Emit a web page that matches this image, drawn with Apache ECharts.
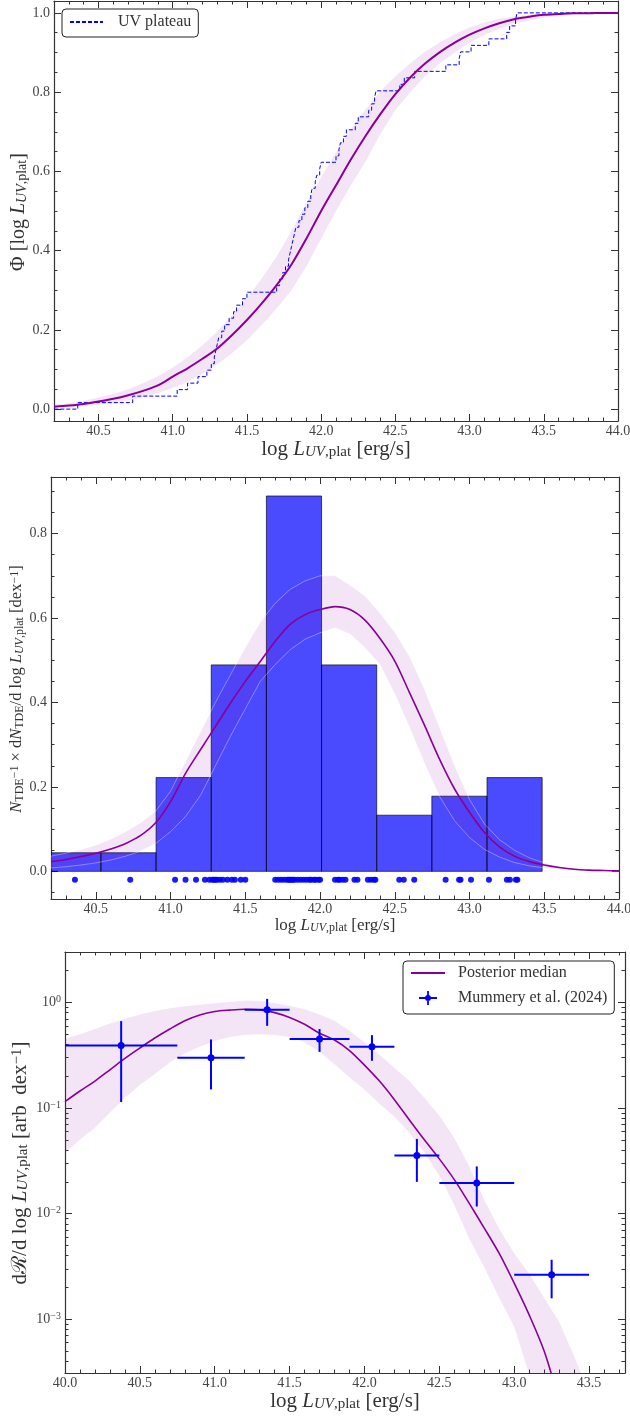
<!DOCTYPE html>
<html>
<head>
<meta charset="utf-8">
<script src="https://cdn.jsdelivr.net/npm/echarts@6/dist/echarts.min.js"></script>
<style>
  html, body { margin: 0; padding: 0; background: #fff; }
  #chart { width: 630px; height: 1420px; }
</style>
</head>
<body>
<div id="chart"></div>
<script>
// ---------- panel 1: cumulative distribution ----------
const cdfX = [40.2, 40.3, 40.4, 40.5, 40.6, 40.7, 40.8, 40.9, 41.0, 41.1, 41.2, 41.3, 41.4, 41.5, 41.6, 41.7, 41.8, 41.9, 42.0,
  42.1, 42.2, 42.3, 42.4, 42.5, 42.6, 42.7, 42.8, 42.9, 43.0, 43.1, 43.2, 43.3, 43.4, 43.5, 43.6, 43.7, 43.8, 43.9, 44.0];
const cdfMedian = [0.006, 0.009, 0.013, 0.019, 0.026, 0.035, 0.046, 0.060, 0.082, 0.103, 0.127, 0.153, 0.187, 0.225, 0.267, 0.313, 0.365, 0.430, 0.500,
  0.565, 0.630, 0.690, 0.745, 0.795, 0.837, 0.872, 0.901, 0.925, 0.945, 0.961, 0.974, 0.984, 0.990, 0.995, 0.997, 0.999, 0.999, 1.000, 1.000];
const cdfLow = [0.003, 0.005, 0.008, 0.011, 0.016, 0.022, 0.030, 0.040, 0.053, 0.069, 0.089, 0.113, 0.141, 0.174, 0.212, 0.254, 0.300, 0.360, 0.430,
  0.500, 0.565, 0.625, 0.695, 0.755, 0.800, 0.840, 0.873, 0.900, 0.925, 0.945, 0.960, 0.972, 0.981, 0.988, 0.993, 0.996, 0.998, 0.999, 1.000];
const cdfHigh = [0.011, 0.015, 0.021, 0.029, 0.038, 0.050, 0.065, 0.083, 0.105, 0.131, 0.161, 0.196, 0.236, 0.280, 0.330, 0.385, 0.450, 0.520, 0.585,
  0.648, 0.706, 0.757, 0.802, 0.840, 0.873, 0.902, 0.926, 0.946, 0.963, 0.976, 0.985, 0.991, 0.995, 0.998, 0.999, 1.000, 1.000, 1.000, 1.000];

// observed log L_UV,plat of the sample (sorted)
const sampleLogL = [40.36, 40.73,
  41.03, 41.10, 41.17, 41.23, 41.26,
  41.28, 41.29, 41.30, 41.31, 41.33, 41.35, 41.38, 41.41, 41.43, 41.47, 41.50,
  41.70, 41.72, 41.74, 41.76, 41.78, 41.79, 41.80, 41.81, 41.82, 41.83, 41.85, 41.87, 41.89, 41.91, 41.93, 41.94, 41.96, 41.97, 41.99, 42.00,
  42.10, 42.12, 42.13, 42.15, 42.17, 42.23, 42.25, 42.32, 42.34, 42.36, 42.37,
  42.53, 42.56, 42.63,
  42.84, 42.93, 42.94, 43.01,
  43.13, 43.25, 43.27, 43.31, 43.32];

// ---------- panel 2: histogram + density ----------
const histEdges = [40.165, 40.534, 40.903, 41.272, 41.641, 42.010, 42.379, 42.748, 43.117, 43.486];
const histHeights = [0.044, 0.044, 0.222, 0.489, 0.889, 0.489, 0.133, 0.178, 0.222];
const pdfX = cdfX;
const pdfMedian = [0.023, 0.028, 0.035, 0.043, 0.053, 0.066, 0.085, 0.115, 0.165, 0.232, 0.288, 0.343, 0.398, 0.450, 0.497, 0.545, 0.585, 0.608, 0.620,
  0.627, 0.620, 0.595, 0.552, 0.498, 0.422, 0.345, 0.265, 0.195, 0.140, 0.092, 0.058, 0.036, 0.023, 0.015, 0.009, 0.005, 0.003, 0.002, 0.001];
const pdfLow = [0.008, 0.011, 0.015, 0.020, 0.027, 0.036, 0.048, 0.066, 0.094, 0.130, 0.180, 0.250, 0.320, 0.385, 0.450, 0.490, 0.525, 0.550, 0.565,
  0.577, 0.562, 0.530, 0.490, 0.420, 0.340, 0.255, 0.177, 0.120, 0.080, 0.052, 0.034, 0.021, 0.013, 0.008, 0.005, 0.003, 0.002, 0.001, 0.0005];
const pdfHigh = [0.036, 0.043, 0.051, 0.062, 0.076, 0.094, 0.115, 0.142, 0.190, 0.260, 0.330, 0.400, 0.465, 0.530, 0.590, 0.635, 0.668, 0.688, 0.700,
  0.700, 0.678, 0.652, 0.612, 0.566, 0.508, 0.430, 0.340, 0.250, 0.170, 0.112, 0.075, 0.050, 0.032, 0.020, 0.012, 0.007, 0.004, 0.002, 0.001];
const rugY = -0.02;

// ---------- panel 3: rate per dex (log y) ----------
const rateX = [40.0, 40.1, 40.2, 40.3, 40.4, 40.5, 40.6, 40.7, 40.8, 40.9, 41.0, 41.1, 41.2, 41.3, 41.4, 41.5, 41.6,
  41.7, 41.8, 41.9, 42.0, 42.1, 42.2, 42.3, 42.4, 42.5, 42.6, 42.7, 42.8, 42.9, 43.0, 43.1, 43.2, 43.3];
const rateMedian = [0.115, 0.145, 0.18, 0.23, 0.295, 0.37, 0.46, 0.56, 0.67, 0.76, 0.82, 0.845, 0.86, 0.85, 0.80, 0.72, 0.62,
  0.51, 0.44, 0.35, 0.255, 0.18, 0.12, 0.077, 0.05, 0.033, 0.021, 0.0125, 0.0073, 0.0042, 0.0022, 0.0011, 0.0005, 0.00017];
const rateBandX = [40.0, 40.1, 40.2, 40.3, 40.4, 40.5, 40.6, 40.7, 40.8, 40.9, 41.0, 41.1, 41.2, 41.3, 41.4, 41.5, 41.6, 41.7,
  41.8, 41.9, 42.0, 42.1, 42.2, 42.3, 42.4, 42.5, 42.6, 42.7, 42.8, 42.9, 43.0, 43.1, 43.2, 43.3, 43.4, 43.5];
const rateHigh = [0.45, 0.50, 0.56, 0.63, 0.70, 0.77, 0.83, 0.88, 0.92, 0.95, 0.98, 1.01, 1.04, 1.03, 0.98, 0.93, 0.86, 0.77,
  0.67, 0.54, 0.42, 0.32, 0.24, 0.18, 0.125, 0.085, 0.052, 0.028, 0.0135, 0.0072, 0.0042, 0.0027, 0.0016, 0.00095, 0.00045, 0.0002];
const rateLow = [0.038, 0.05, 0.065, 0.09, 0.125, 0.165, 0.21, 0.27, 0.33, 0.38, 0.43, 0.47, 0.49, 0.50, 0.49, 0.47, 0.42, 0.34,
  0.26, 0.195, 0.15, 0.11, 0.083, 0.058, 0.038, 0.023, 0.012, 0.0058, 0.0031, 0.0016, 0.00085, 0.0003, 0.0001, 0.00004, 0.00002, 0.00001];

// Mummery et al. (2024) binned points
const muX = [40.375, 40.975, 41.35, 41.70, 42.05, 42.35, 42.75, 43.25];
const muXLo = [40.0, 40.75, 41.2, 41.5, 41.9, 42.2, 42.5, 43.0];
const muXHi = [40.75, 41.2, 41.5, 41.9, 42.2, 42.5, 43.0, 43.5];
const muY = [0.39, 0.30, 0.85, 0.45, 0.38, 0.0356, 0.0195, 0.00264];
const muYLo = [0.114, 0.15, 0.60, 0.34, 0.28, 0.020, 0.0117, 0.00158];
const muYHi = [0.665, 0.446, 1.08, 0.56, 0.49, 0.051, 0.028, 0.00366];

// tick labels
const xMajorTop = [40.5, 41.0, 41.5, 42.0, 42.5, 43.0, 43.5, 44.0];
const yMajorTop = [0.0, 0.2, 0.4, 0.6, 0.8, 1.0];
const yMajorMid = [0.0, 0.2, 0.4, 0.6, 0.8];
const xMajorBot = [40.0, 40.5, 41.0, 41.5, 42.0, 42.5, 43.0, 43.5];
const yMajorBot = [0.001, 0.01, 0.1, 1];

const FONT = 'Liberation Serif';
const TXT = '#333';
const AXIS = '#333';
const PURPLE = '#880099';
const BLUE = '#0000ff';
const BAND = 'rgba(136,0,153,0.10)';

function steps(a, b, d) {
  const out = [];
  for (let v = a; v <= b + 1e-9; v += d) out.push(Math.round(v * 1000) / 1000);
  return out;
}
function logMinors(lo, hi) {
  const out = [];
  for (let e = -5; e <= 1; e++) {
    for (let m = 2; m <= 9; m++) {
      const v = m * Math.pow(10, e);
      if (v >= lo && v <= hi) out.push(v);
    }
  }
  return out;
}

// rich text pieces (colour key differs between axis names and graphic text)
function richFor(size, colorKey) {
  const s = Math.round(size * 0.7);
  const pad = Math.round(size * 0.3);
  const c = {};
  c[colorKey] = TXT;
  return {
    n: Object.assign({ fontFamily: FONT, fontSize: size }, c),
    i: Object.assign({ fontFamily: FONT, fontSize: size, fontStyle: 'italic' }, c),
    si: Object.assign({ fontFamily: FONT, fontSize: s, fontStyle: 'italic', verticalAlign: 'bottom', padding: [pad, 0, 0, 0] }, c),
    s: Object.assign({ fontFamily: FONT, fontSize: s, verticalAlign: 'bottom', padding: [pad, 0, 0, 0] }, c),
    sup: Object.assign({ fontFamily: FONT, fontSize: s, verticalAlign: 'top', padding: [0, 0, pad, 0] }, c)
  };
}

// four axes per side: main (line, big ticks, labels), minor ticks, mirrored main, mirrored minor
function sideAxes(dim, grid, base, major, minor, main) {
  const near = dim === 'x' ? 'bottom' : 'left';
  const far = dim === 'x' ? 'top' : 'right';
  const mk = (position, ticks, len, line) => Object.assign({
    gridIndex: grid,
    position: position,
    axisLine: { show: line, onZero: false, lineStyle: { color: AXIS, width: 1.2 } },
    axisTick: { show: true, inside: true, length: len, customValues: ticks, lineStyle: { color: AXIS, width: 1 } },
    axisLabel: { show: false },
    splitLine: { show: false },
    minorTick: { show: false }
  }, base);
  const first = mk(near, major, 7, true);
  Object.assign(first, main);
  return [first, mk(near, minor, 3.5, false), mk(far, major, 7, true), mk(far, minor, 3.5, false)];
}

const fixed1 = v => v.toFixed(1);
const tickLabel = (values, fmt, extra) => Object.assign({
  show: true, customValues: values, formatter: fmt, color: '#444', fontFamily: FONT, fontSize: 14
}, extra || {});

const xName = '{n|log }{i|L}{si|UV}{s|,plat}{n| [erg/s]}';
const xNameStyle = size => ({ fontFamily: FONT, fontSize: size, color: TXT, verticalAlign: 'top', rich: richFor(size, 'color') });

const xAxes = [].concat(
  sideAxes('x', 0, { type: 'value', min: 40.2, max: 44.0 }, xMajorTop, steps(40.2, 44.0, 0.1), {
    axisLabel: tickLabel(xMajorTop, fixed1, { margin: 3 }),
    name: xName, nameLocation: 'middle', nameGap: 11, nameTextStyle: xNameStyle(21)
  }),
  sideAxes('x', 1, { type: 'value', min: 40.2, max: 44.0 }, xMajorTop, steps(40.2, 44.0, 0.1), {
    axisLabel: tickLabel(xMajorTop, fixed1, { margin: 3 }),
    name: xName, nameLocation: 'middle', nameGap: 14, nameTextStyle: xNameStyle(17)
  }),
  sideAxes('x', 2, { type: 'value', min: 40.0, max: 43.74 }, xMajorBot, steps(40.0, 43.7, 0.1), {
    axisLabel: tickLabel(xMajorBot, fixed1, { margin: 3 }),
    name: xName, nameLocation: 'middle', nameGap: 12, nameTextStyle: xNameStyle(21)
  })
);

const logLabel = v => {
  const e = Math.round(Math.log10(v));
  return '10{sup|' + (e === 0 ? '0' : '\u2212' + Math.abs(e)) + '}';
};

const yAxes = [].concat(
  sideAxes('y', 0, { type: 'value', min: -0.03, max: 1.03 }, yMajorTop, steps(0, 1.0, 0.05), {
    axisLabel: tickLabel(yMajorTop, fixed1, { margin: 4 })
  }),
  sideAxes('y', 1, { type: 'value', min: -0.0655, max: 0.934 }, yMajorMid, steps(-0.05, 0.9, 0.05), {
    axisLabel: tickLabel(yMajorMid, fixed1, { margin: 4 })
  }),
  sideAxes('y', 2, { type: 'log', logBase: 10, min: 3.1e-4, max: 3.0 }, yMajorBot, logMinors(3.1e-4, 3.0), {
    axisLabel: tickLabel(yMajorBot, logLabel, { margin: 4, rich: { sup: { fontFamily: FONT, fontSize: 10, color: '#444', verticalAlign: 'top', padding: [0, 0, 6, 0] } } })
  })
);

// rotated y titles
function yTitle(x, y, size, text) {
  return {
    type: 'text', x: x, y: y, rotation: Math.PI / 2, silent: true,
    style: { text: text, fontFamily: FONT, fontSize: size, fill: TXT, align: 'center', verticalAlign: 'middle', rich: richFor(size, 'fill') }
  };
}

function bandSeries(xi, yi, xs, lo, hi, stroke, z) {
  return {
    type: 'custom', xAxisIndex: xi, yAxisIndex: yi, clip: true, z: z, silent: true,
    data: [[xs[0], hi[0]]],
    renderItem: (params, api) => {
      const pts = [];
      for (let i = 0; i < xs.length; i++) pts.push(api.coord([xs[i], hi[i]]));
      for (let i = xs.length - 1; i >= 0; i--) pts.push(api.coord([xs[i], lo[i]]));
      return {
        type: 'polygon', shape: { points: pts },
        style: { fill: BAND, stroke: stroke || 'none', lineWidth: 1 }
      };
    }
  };
}

const ecdfData = [[40.0, 0]].concat(sampleLogL.map((v, i) => [v, (i + 1) / sampleLogL.length]), [[44.5, 1]]);

const series = [
  // panel 1
  bandSeries(0, 0, cdfX, cdfLow, cdfHigh, null, 2),
  {
    name: 'UV plateau', type: 'line', xAxisIndex: 0, yAxisIndex: 0, step: 'end', symbol: 'none', z: 3,
    lineStyle: { color: BLUE, width: 1, type: [4, 2] }, itemStyle: { color: BLUE },
    data: ecdfData
  },
  {
    name: 'cdf median', type: 'line', xAxisIndex: 0, yAxisIndex: 0, symbol: 'none', smooth: 0.3, z: 4,
    lineStyle: { color: PURPLE, width: 2 },
    data: cdfX.map((x, i) => [x, cdfMedian[i]])
  },
  // panel 2
  {
    type: 'custom', xAxisIndex: 4, yAxisIndex: 4, clip: true, z: 1, silent: true,
    data: histHeights.map((h, i) => [histEdges[i], histEdges[i + 1], h]),
    encode: { x: [0, 1], y: 2 },
    renderItem: (params, api) => {
      const a = api.coord([api.value(0), 0]);
      const b = api.coord([api.value(1), api.value(2)]);
      return {
        type: 'rect',
        shape: { x: a[0], y: b[1], width: b[0] - a[0], height: a[1] - b[1] },
        style: { fill: 'rgba(0,0,255,0.71)', stroke: 'rgba(0,0,0,0.65)', lineWidth: 1 }
      };
    }
  },
  bandSeries(4, 4, pdfX, pdfLow, pdfHigh, 'rgba(255,255,255,0.35)', 2),
  {
    name: 'pdf median', type: 'line', xAxisIndex: 4, yAxisIndex: 4, symbol: 'none', smooth: 0.3, z: 3,
    lineStyle: { color: PURPLE, width: 1.6 },
    data: pdfX.map((x, i) => [x, pdfMedian[i]])
  },
  {
    name: 'sample', type: 'scatter', xAxisIndex: 4, yAxisIndex: 4, symbolSize: 6, z: 4,
    itemStyle: { color: BLUE, opacity: 0.9 },
    data: sampleLogL.map(v => [v, rugY])
  },
  // panel 3
  bandSeries(8, 8, rateBandX, rateLow, rateHigh, null, 1),
  {
    name: 'Posterior median', type: 'line', xAxisIndex: 8, yAxisIndex: 8, symbol: 'none', smooth: 0.3, z: 2,
    lineStyle: { color: PURPLE, width: 1.6 }, itemStyle: { color: PURPLE },
    data: rateX.map((x, i) => [x, rateMedian[i]])
  },
  {
    name: 'Mummery et al. (2024)', type: 'custom', xAxisIndex: 8, yAxisIndex: 8, z: 3,
    itemStyle: { color: BLUE },
    data: muX.map((x, i) => [x, muY[i], muXLo[i], muXHi[i], muYLo[i], muYHi[i]]),
    encode: { x: 0, y: 1 },
    renderItem: (params, api) => {
      const c = api.coord([api.value(0), api.value(1)]);
      const l = api.coord([api.value(2), api.value(1)]);
      const r = api.coord([api.value(3), api.value(1)]);
      const b = api.coord([api.value(0), api.value(4)]);
      const t = api.coord([api.value(0), api.value(5)]);
      const st = { stroke: BLUE, lineWidth: 2 };
      return {
        type: 'group', children: [
          { type: 'line', shape: { x1: l[0], y1: l[1], x2: r[0], y2: r[1] }, style: st },
          { type: 'line', shape: { x1: b[0], y1: b[1], x2: t[0], y2: t[1] }, style: st },
          { type: 'circle', shape: { cx: c[0], cy: c[1], r: 3.5 }, style: { fill: BLUE } }
        ]
      };
    }
  }
];

const legendText = { fontFamily: FONT, fontSize: 16, color: TXT, lineHeight: 18 };
const errIcon = 'path://M0,0h0.01v0.01h-0.01z M34,14h0.01v0.01h-0.01z M8,6.1h18v1.8h-18z M16.1,0h1.8v14h-1.8z M17,4a3,3 0 1,1 -0.001,0z';

const option = {
  animation: false,
  backgroundColor: '#fff',
  grid: [
    { left: 54, top: 1, width: 564, height: 420, outerBoundsMode: 'none' },
    { left: 51, top: 477, width: 568, height: 422, outerBoundsMode: 'none' },
    { left: 65, top: 952, width: 560, height: 421, outerBoundsMode: 'none' }
  ],
  legend: [
    {
      left: 62, top: 9, orient: 'vertical', selectedMode: false,
      data: ['UV plateau'], itemWidth: 33, itemHeight: 12,
      itemStyle: { opacity: 0 },
      padding: [4, 7, 6, 7], borderColor: '#222', borderWidth: 1, borderRadius: 4, backgroundColor: '#fff',
      textStyle: Object.assign({ padding: [0, 0, 0, 10] }, legendText)
    },
    {
      left: 403, top: 961, orient: 'vertical', selectedMode: false, itemGap: 7,
      itemStyle: { opacity: 0 },
      data: [
        { name: 'Posterior median' },
        { name: 'Mummery et al. (2024)', icon: errIcon, itemStyle: { opacity: 1, color: BLUE } }
      ],
      itemWidth: 34, itemHeight: 14,
      padding: [3, 7, 7, 7], borderColor: '#222', borderWidth: 1, borderRadius: 4, backgroundColor: '#fff',
      textStyle: Object.assign({ padding: [0, 0, 0, 8] }, legendText)
    }
  ],
  graphic: [
    yTitle(19, 212, 20, '{n|\u03a6 [log }{i|L}{si|UV}{s|,plat}{n|]}'),
    yTitle(17, 689, 16.5, '{i|N}{s|TDE}{sup|\u22121}{n| \u00d7 d}{i|N}{s|TDE}{n|/d log }{i|L}{si|UV}{s|,plat}{n| [dex}{sup|\u22121}{n|]}'),
    yTitle(20, 1163, 21, '{n|d\u211b/d log }{i|L}{si|UV}{s|,plat}{n| [arb  dex}{sup|\u22121}{n|]}')
  ],
  xAxis: xAxes,
  yAxis: yAxes,
  series: series
};

const chart = echarts.init(document.getElementById('chart'), null, { renderer: 'canvas' });
chart.setOption(option);
</script>
</body>
</html>
